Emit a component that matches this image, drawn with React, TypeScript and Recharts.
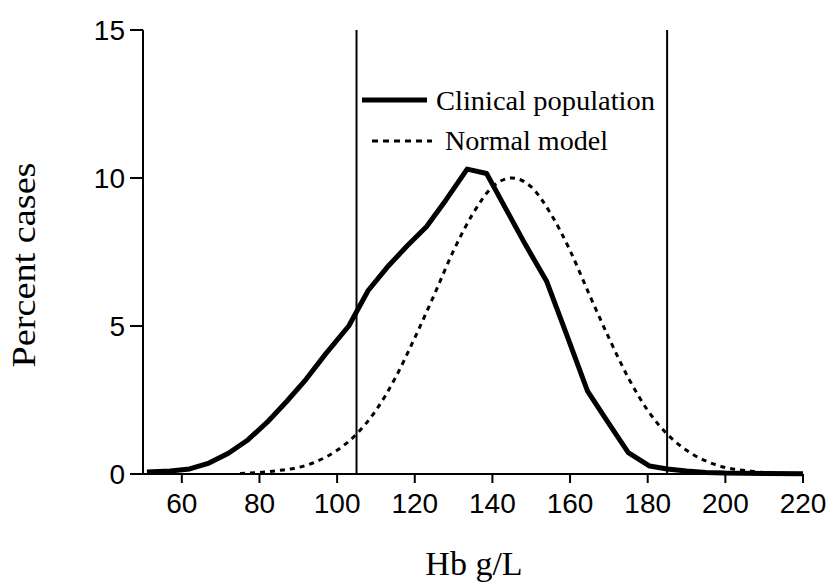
import React from "react";
import {
  ComposedChart,
  Line,
  XAxis,
  YAxis,
  ReferenceLine,
  Legend,
  Label,
} from "recharts";

// Hb (g/L) vs percent of cases
const clinicalHb = [51, 57, 62, 67, 72, 77, 82, 87, 92, 97, 103, 108, 113, 118, 123, 128, 133.5, 138.5, 143.5, 148.5, 154, 159, 164.5, 170, 175, 180.5, 185, 190, 195, 200, 210, 220];
const clinicalPct = [0.07, 0.1, 0.17, 0.37, 0.7, 1.15, 1.75, 2.45, 3.2, 4.05, 5.0, 6.2, 7.0, 7.7, 8.35, 9.25, 10.3, 10.15, 8.95, 7.75, 6.5, 4.75, 2.8, 1.7, 0.72, 0.27, 0.17, 0.1, 0.05, 0.03, 0.02, 0.01];

const normalHb = [75, 80, 85, 90, 95, 100, 105, 110, 115, 120, 125, 130, 135, 140, 145, 150, 155, 160, 165, 170, 175, 180, 185, 190, 195, 200, 205, 210, 215, 220];
const normalPct = [0.02, 0.05, 0.12, 0.22, 0.44, 0.8, 1.35, 2.15, 3.25, 4.6, 6.05, 7.55, 8.8, 9.7, 10.0, 9.7, 8.8, 7.55, 6.05, 4.6, 3.25, 2.15, 1.35, 0.8, 0.44, 0.22, 0.12, 0.05, 0.02, 0.01];

const xTicks = [60, 80, 100, 120, 140, 160, 180, 200, 220];
const yTicks = [0, 5, 10, 15];
const cutoffs = [105, 185];

const clinical = clinicalHb.map((hb, i) => ({ hb, pct: clinicalPct[i] }));
const normal = normalHb.map((hb, i) => ({ hb, pct: normalPct[i] }));

const SANS = "'Liberation Sans', Arial, sans-serif";
const SERIF = "'Liberation Serif', 'Times New Roman', serif";

function LegendBox() {
  return (
    <svg width={830} height={170} style={{ display: "block" }}>
      <line x1={362} y1={100} x2={427} y2={100} stroke="#000" strokeWidth={5} />
      <text x={436} y={110} fontFamily={SERIF} fontSize={28} fill="#000" textLength={219} lengthAdjust="spacingAndGlyphs">
        Clinical population
      </text>
      <line x1={372} y1={141} x2={432} y2={141} stroke="#000" strokeWidth={3} strokeDasharray="6 5" />
      <text x={445} y={150} fontFamily={SERIF} fontSize={28} fill="#000" textLength={163} lengthAdjust="spacingAndGlyphs">
        Normal model
      </text>
    </svg>
  );
}

export default function App() {
  return (
    <div style={{ position: "absolute", left: 0, top: 0, width: 830, height: 583, background: "#fff" }}>
      <ComposedChart width={830} height={583} margin={{ top: 30, right: 27, bottom: 39, left: 63 }}>
        <XAxis
          type="number"
          dataKey="hb"
          domain={[50, 220]}
          ticks={xTicks}
          height={70}
          stroke="#000"
          strokeWidth={2}
          tickSize={9}
          tickMargin={10}
          tick={{ fontSize: 28, fill: "#000", fontFamily: SANS }}
        >
          <Label
            content={() => (
              <text x={474} y={575} textAnchor="middle" fontFamily={SERIF} fontSize={34} fill="#000">
                Hb g/L
              </text>
            )}
          />
        </XAxis>
        <YAxis
          type="number"
          domain={[0, 15]}
          ticks={yTicks}
          width={80}
          stroke="#000"
          strokeWidth={2}
          tickSize={13}
          tickMargin={5}
          tick={{ fontSize: 28, fill: "#000", fontFamily: SANS }}
        >
          <Label
            content={() => (
              <text
                x={35}
                y={265}
                transform="rotate(-90 35 265)"
                textAnchor="middle"
                fontFamily={SERIF}
                fontSize={34}
                fill="#000"
                textLength={205}
                lengthAdjust="spacingAndGlyphs"
              >
                Percent cases
              </text>
            )}
          />
        </YAxis>

        {cutoffs.map((c) => (
          <ReferenceLine key={c} x={c} stroke="#000" strokeWidth={2} />
        ))}

        <Line
          data={normal}
          dataKey="pct"
          name="Normal model"
          type="monotone"
          stroke="#000"
          strokeWidth={3}
          strokeDasharray="5 5"
          dot={false}
          isAnimationActive={false}
        />
        <Line
          data={clinical}
          dataKey="pct"
          name="Clinical population"
          type="linear"
          stroke="#000"
          strokeWidth={5}
          strokeLinejoin="round"
          dot={false}
          isAnimationActive={false}
        />

        <Legend
          verticalAlign="middle"
          align="center"
          layout="horizontal"
          wrapperStyle={{ left: 0, top: 0, width: 830, height: 170 }}
          content={() => <LegendBox />}
        />
      </ComposedChart>
    </div>
  );
}
